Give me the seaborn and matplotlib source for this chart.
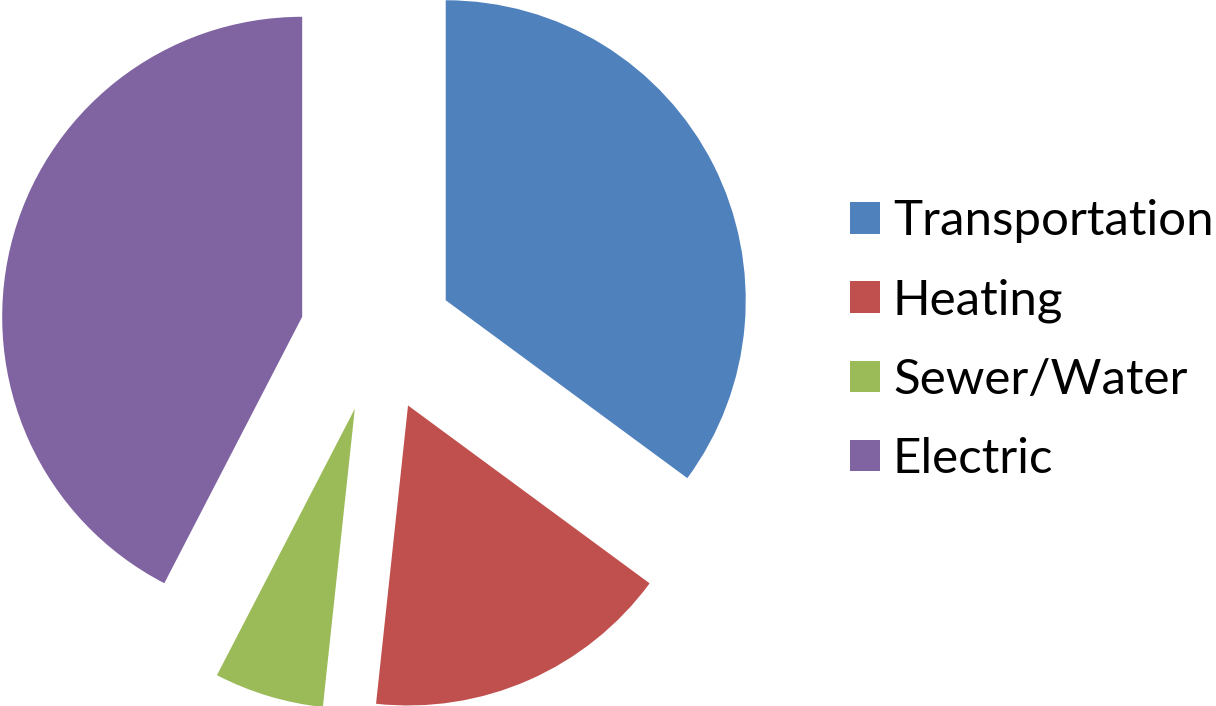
import matplotlib
matplotlib.use("Agg")
import matplotlib.pyplot as plt
import seaborn as sns

# Household energy spending shares (percent)
categories = ["Transportation", "Heating", "Sewer/Water", "Electric"]
shares = [35.1, 16.6, 5.9, 42.4]
colors = ["#4F81BD", "#C0504D", "#9BBB59", "#8064A2"]

sns.set_theme(style="white")
plt.rcParams["font.family"] = ["Lato", "DejaVu Sans"]
plt.rcParams["text.color"] = "black"

W, H = 1216, 706
fig = plt.figure(figsize=(W / 100, H / 100), dpi=100)
ax = fig.add_axes([0, 0, 1, 1])

wedges, _ = ax.pie(
    shares,
    colors=colors,
    startangle=90,
    counterclock=False,
    explode=[77] * len(shares),
    radius=300,
    center=(377, H - 335),
    wedgeprops=dict(linewidth=0),
)
ax.set_xlim(0, W)
ax.set_ylim(0, H)
ax.set_aspect("equal")
ax.axis("off")

leg = ax.legend(
    wedges,
    categories,
    loc="center left",
    bbox_to_anchor=(850 / W, 1 - 340 / H),
    frameon=False,
    fontsize=35.5,
    handlelength=0.61,
    handleheight=0.61,
    handletextpad=0.26,
    labelspacing=0.71,
    borderpad=0,
    borderaxespad=0,
)
for txt in leg.get_texts():
    txt.set_color("black")

fig.savefig("out.png", dpi=100, facecolor="white")
